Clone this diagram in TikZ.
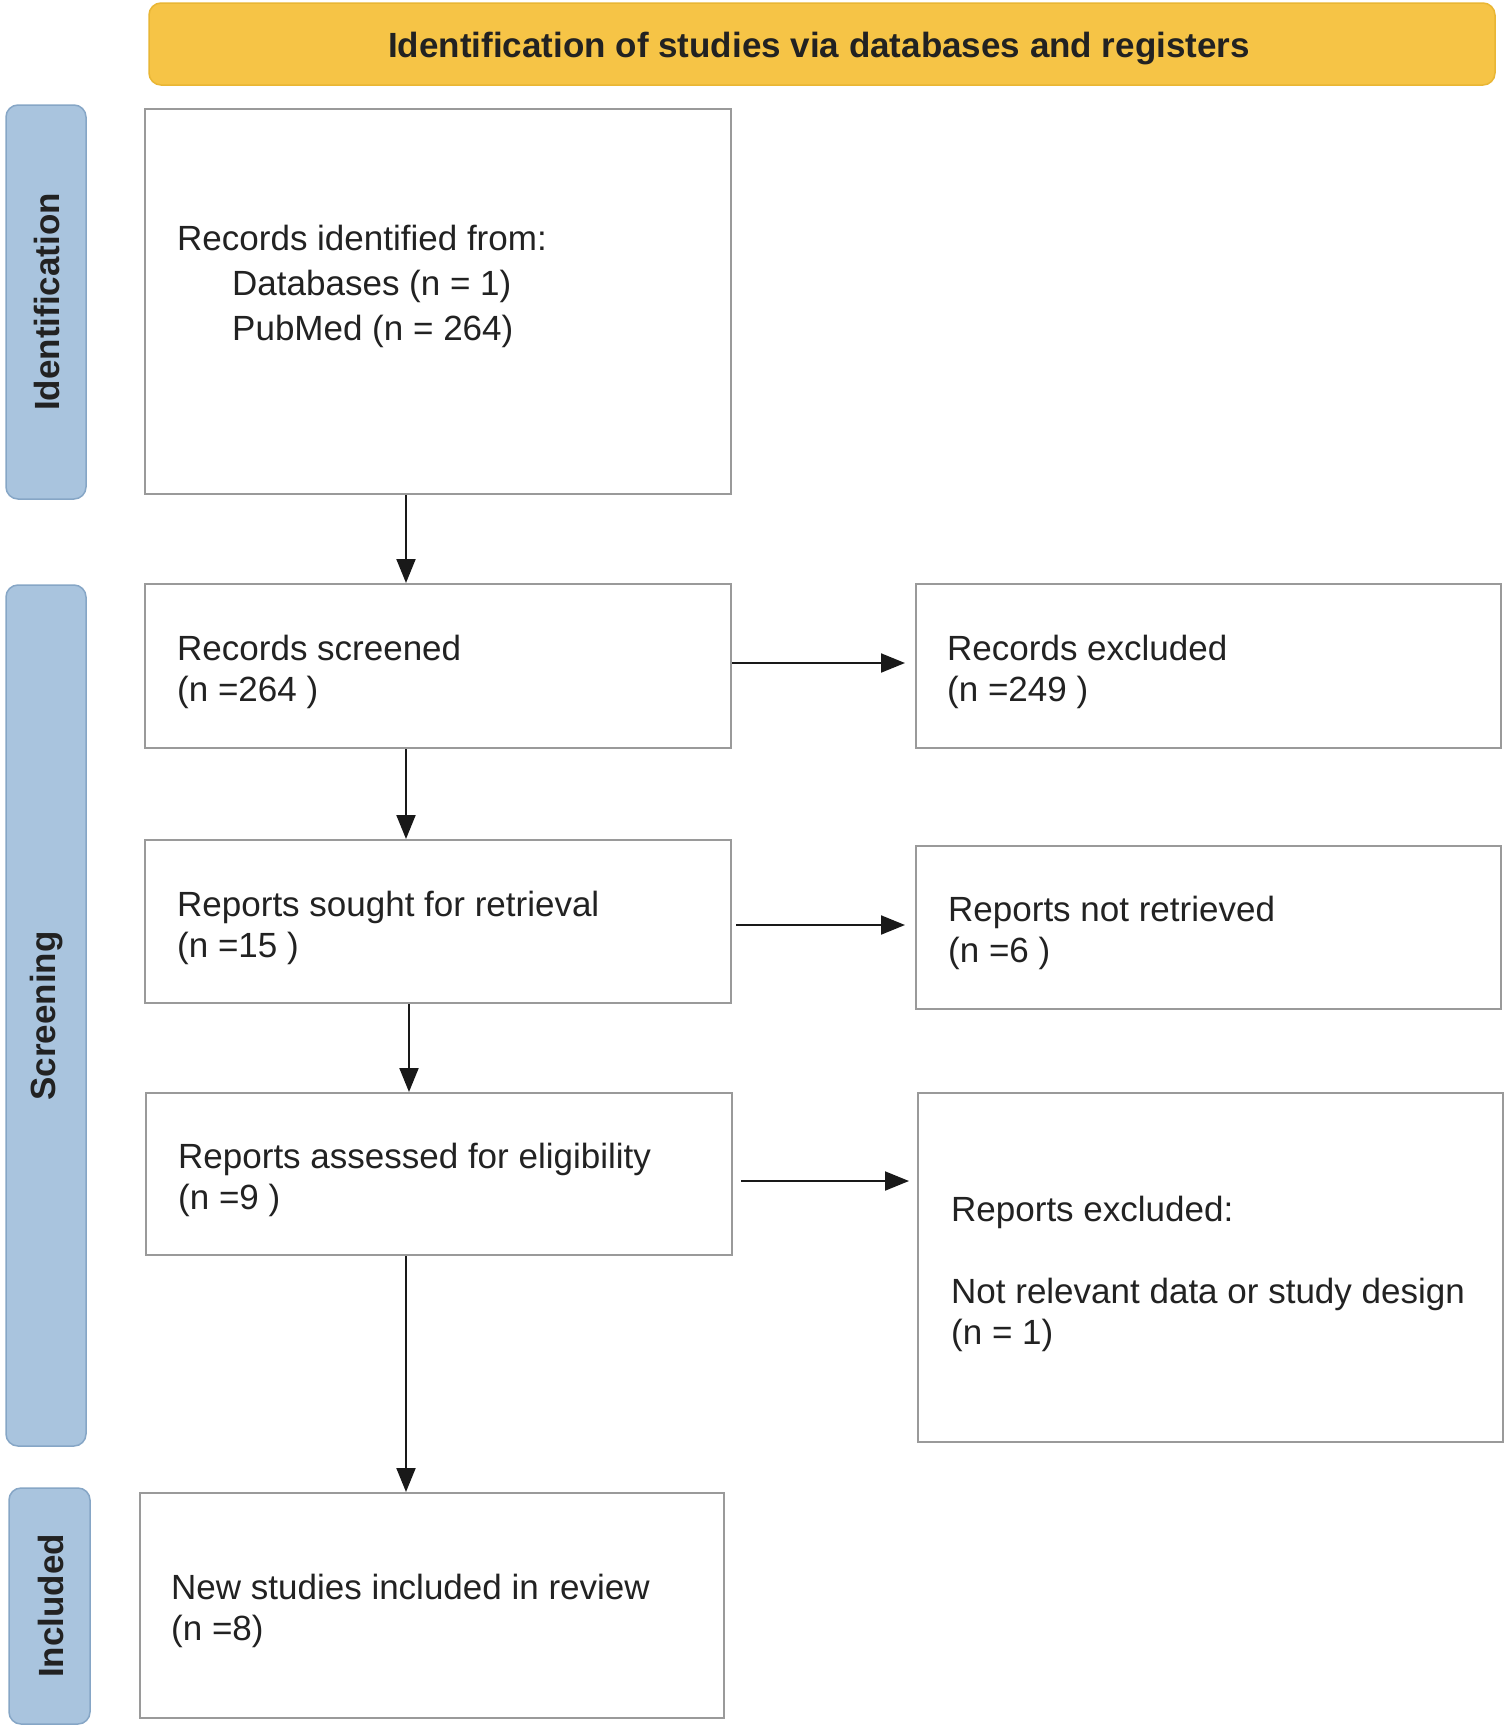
\documentclass[tikz,border=0pt]{standalone}
\usepackage{fontspec}
\setmainfont{Liberation Sans}
\usetikzlibrary{arrows.meta,calc}
\definecolor{boxline}{HTML}{9A9A9A}
\definecolor{bandfill}{HTML}{A9C4DE}
\definecolor{bandline}{HTML}{86A6C6}
\definecolor{titlefill}{HTML}{F6C446}
\definecolor{titleline}{HTML}{E9B634}
\definecolor{txt}{HTML}{222222}
\begin{document}
\begin{tikzpicture}[x=1pt,y=-1pt,
  box/.style={draw=boxline,line width=2pt,fill=white,inner sep=0pt,rectangle},
  band/.style={draw=bandline,line width=1.5pt,fill=bandfill,rounded corners=12pt,inner sep=0pt},
  bandtext/.style={rotate=90,font=\fontsize{35}{41}\selectfont\bfseries,text=txt},
  label/.style={anchor=west,align=left,inner sep=0pt,font=\fontsize{35}{41}\selectfont,text=txt},
  flow/.style={draw=black!90,line width=2pt,-{Triangle[length=24pt,width=19pt]}}]
\path[use as bounding box,fill=white] (0,0) rectangle (1512,1733);
% title
\node[draw=titleline,line width=1.5pt,fill=titlefill,rounded corners=12pt,minimum width=1346pt,minimum height=82pt,inner sep=0pt] (title) at (822,44) {};
\node[font=\fontsize{35}{41}\selectfont\bfseries,text=txt,inner sep=0pt] (titletext) at (819,49) {Identification of studies via databases and registers};
% side bands
\node[band,minimum width=80pt,minimum height=394pt] (band1) at (46,302) {};
\node[bandtext] (band1t) at (47,302) {Identification};
\node[band,minimum width=80pt,minimum height=861pt] (band2) at (46,1015.5) {};
\node[bandtext] (band2t) at (47,1016) {Screening};
\node[band,minimum width=81pt,minimum height=236pt] (band3) at (49.5,1606) {};
\node[bandtext] (band3t) at (50.5,1606) {Included};
% boxes
\node[box,minimum width=586pt,minimum height=385pt] (b1) at (438,301.5) {};
\node[box,minimum width=586pt,minimum height=164pt] (b2) at (438,666) {};
\node[box,minimum width=585pt,minimum height=164pt] (e1) at (1208.5,666) {};
\node[box,minimum width=586pt,minimum height=163pt] (b3) at (438,921.5) {};
\node[box,minimum width=585pt,minimum height=163pt] (e2) at (1208.5,927.5) {};
\node[box,minimum width=586pt,minimum height=162pt] (b4) at (439,1174) {};
\node[box,minimum width=585pt,minimum height=349pt] (e3) at (1210.5,1267.5) {};
\node[box,minimum width=584pt,minimum height=225pt] (b5) at (432,1605.5) {};
% texts
\node[label,font=\fontsize{35}{45}\selectfont] (t1) at (177,286) {Records identified from:\\\hspace*{55pt}Databases (n = 1)\\\hspace*{55pt}PubMed (n = 264)};
\node[label] (t2) at (177,672) {Records screened\\(n =264 )};
\node[label] (te1) at (947,672) {Records excluded\\(n =249 )};
\node[label] (t3) at (177,928) {Reports sought for retrieval\\(n =15 )};
\node[label] (te2) at (948,933) {Reports not retrieved\\(n =6 )};
\node[label] (t4) at (178,1180) {Reports assessed for eligibility\\(n =9 )};
\node[label] (te3) at (951,1274) {Reports excluded:\\[41pt]Not relevant data or study design\\(n = 1)};
\node[label] (t5) at (171,1611) {New studies included in review\\(n =8)};
% arrows
\coordinate (ax) at (406,0);
\coordinate (ax2) at (409,0);
\draw[flow] (b1.south -| ax) -- (b2.north -| ax);
\draw[flow] (b2.south -| ax) -- (b3.north -| ax);
\draw[flow] (b3.south -| ax2) -- (b4.north -| ax2);
\draw[flow] (b4.south -| ax) -- (b5.north -| ax);
\draw[flow,shorten >=10pt] ($(b2.east)+(0,-3)$) -- ($(e1.west)+(0,-3)$);
\draw[flow,shorten >=10pt] ($(b3.east)+(4,3.5)$) -- ($(b3.east -| e2.west)+(0,3.5)$);
\draw[flow,shorten >=8pt] ($(b4.east)+(8,7)$) -- ($(b4.east -| e3.west)+(0,7)$);
\end{tikzpicture}
\end{document}
